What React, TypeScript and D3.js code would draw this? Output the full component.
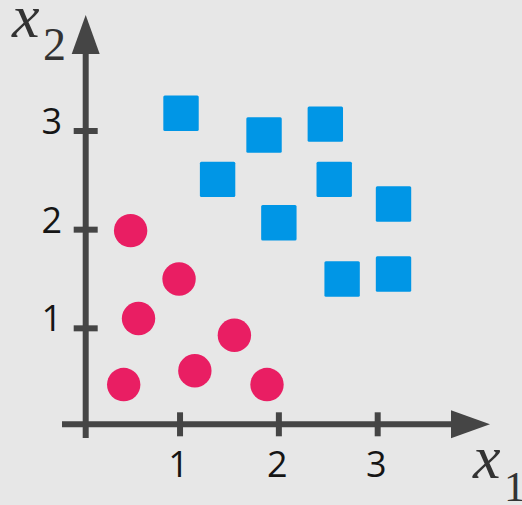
import React from "react";
import * as d3 from "d3";

const W = 522;
const H = 505;

const tickValues = [1, 2, 3];
const tickLabels = ["1", "2", "3"];

const classA = [
  { x1: 0.5, x2: 1.99 },
  { x1: 0.99, x2: 1.5 },
  { x1: 0.58, x2: 1.1 },
  { x1: 1.55, x2: 0.93 },
  { x1: 1.15, x2: 0.57 },
  { x1: 0.43, x2: 0.43 },
  { x1: 1.88, x2: 0.43 },
];

const classB = [
  { x1: 1.01, x2: 3.18 },
  { x1: 1.85, x2: 2.96 },
  { x1: 2.47, x2: 3.07 },
  { x1: 1.38, x2: 2.51 },
  { x1: 2.56, x2: 2.51 },
  { x1: 3.16, x2: 2.26 },
  { x1: 2.0, x2: 2.07 },
  { x1: 2.64, x2: 1.5 },
  { x1: 3.16, x2: 1.55 },
];

export default function App() {
  const x = d3.scaleLinear().domain([0, 3]).range([81.2, 377.7]);
  const y = d3.scaleLinear().domain([0, 3]).range([427, 131]);

  const axisColor = "#454545";
  const ox = 85.7;
  const oy = 424.3;
  const tickHalf = 12;
  const sq = 35.4;
  const r = 16.7;

  return (
    <svg
      width={W}
      height={H}
      style={{ position: "absolute", left: 0, top: 0, display: "block" }}
    >
      <rect x={0} y={0} width={W} height={H} fill="#e7e7e7" />

      {/* x axis */}
      <line x1={62} y1={oy} x2={452} y2={oy} stroke={axisColor} strokeWidth={6} />
      <path d={`M451,${oy - 14} L490,${oy} L451,${oy + 14} Z`} fill={axisColor} />
      {/* y axis */}
      <line x1={ox} y1={438} x2={ox} y2={53} stroke={axisColor} strokeWidth={6} />
      <path d={`M${ox - 14},54 L${ox},15 L${ox + 14},54 Z`} fill={axisColor} />

      {tickValues.map((v, i) => (
        <g key={"xt" + i}>
          <line
            x1={x(v)}
            x2={x(v)}
            y1={oy - tickHalf}
            y2={oy + tickHalf}
            stroke={axisColor}
            strokeWidth={6}
          />
          <text
            x={x(v) - 1.5}
            y={477}
            textAnchor="middle"
            fontFamily="'Open Sans', sans-serif"
            fontSize={36}
            fill="#151515"
          >
            {tickLabels[i]}
          </text>
        </g>
      ))}
      {tickValues.map((v, i) => (
        <g key={"yt" + i}>
          <line
            x1={ox - tickHalf}
            x2={ox + tickHalf}
            y1={y(v)}
            y2={y(v)}
            stroke={axisColor}
            strokeWidth={6}
          />
          <text
            x={62}
            y={y(v) + 3}
            textAnchor="end"
            fontFamily="'Open Sans', sans-serif"
            fontSize={36}
            fill="#151515"
          >
            {tickLabels[i]}
          </text>
        </g>
      ))}

      {classB.map((d, i) => (
        <rect
          key={"b" + i}
          x={x(d.x1) - sq / 2}
          y={y(d.x2) - sq / 2}
          width={sq}
          height={sq}
          rx={1.5}
          fill="#0096e6"
        />
      ))}
      {classA.map((d, i) => (
        <circle key={"a" + i} cx={x(d.x1)} cy={y(d.x2)} r={r} fill="#e91e63" />
      ))}

      {/* axis labels */}
      <text
        x={12}
        y={37}
        fontFamily="'Liberation Serif', serif"
        fontStyle="italic"
        fontSize={62}
        fill="#333"
      >
        x
      </text>
      <text x={43} y={60} fontFamily="'Liberation Serif', serif" fontSize={46} fill="#333">
        2
      </text>
      <text
        x={473}
        y={478}
        fontFamily="'Liberation Serif', serif"
        fontStyle="italic"
        fontSize={62}
        fill="#333"
      >
        x
      </text>
      <text x={504} y={501} fontFamily="'Liberation Serif', serif" fontSize={43} fill="#333">
        1
      </text>
    </svg>
  );
}
